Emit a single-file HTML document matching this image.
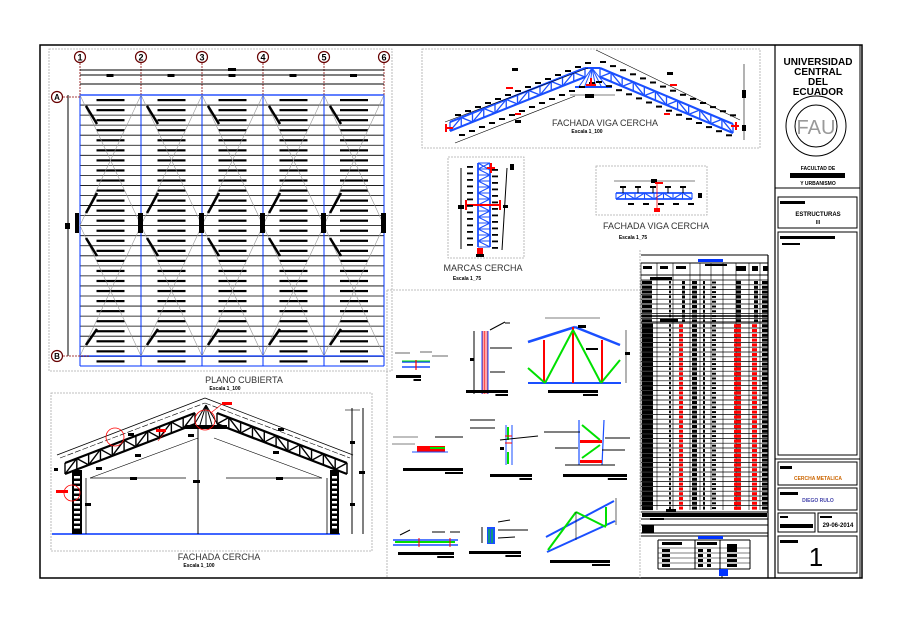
<!DOCTYPE html>
<html><head><meta charset="utf-8"><style>
html,body{margin:0;padding:0;background:#fff;width:904px;height:624px;overflow:hidden}
svg{display:block;font-family:"Liberation Sans",sans-serif}
</style></head><body>
<svg id="s" width="904" height="624" viewBox="0 0 904 624" xmlns="http://www.w3.org/2000/svg">
<rect width="904" height="624" fill="#fff"/>
<path d="M40 45H862V578H40Z" fill="none" stroke="#000" stroke-width="1.5"/>
<line x1="775" y1="45" x2="775" y2="578" stroke="#000" stroke-width="1.2"/>
<line x1="860" y1="45" x2="860" y2="578" stroke="#000" stroke-width="1"/>
<g fill="none" stroke="#aaa" stroke-width="0.8" stroke-dasharray="2,1">
<rect x="49" y="49" width="343" height="322"/>
<rect x="51" y="393" width="321" height="158"/>
<rect x="422" y="49" width="338" height="99"/>
<rect x="448" y="157" width="76" height="101"/>
<rect x="596" y="166" width="111" height="49"/>
<line x1="387" y1="290" x2="640" y2="290"/>
<line x1="387" y1="290" x2="387" y2="578"/>
<line x1="640" y1="250" x2="640" y2="578"/>
</g>
<g id="g"></g>
<g font-size="9" fill="#333" text-anchor="middle">
<text x="244" y="383">PLANO CUBIERTA</text>
<text x="219" y="560">FACHADA CERCHA</text>
<text x="605" y="126">FACHADA  VIGA CERCHA</text>
<text x="656" y="229">FACHADA  VIGA CERCHA</text>
<text x="483" y="271">MARCAS  CERCHA</text>
</g>
<g font-size="5" font-weight="bold" fill="#000" text-anchor="middle">
<text x="225" y="390">Escala 1_100</text>
<text x="199" y="567">Escala 1_100</text>
<text x="587" y="133">Escala 1_100</text>
<text x="633" y="239">Escala 1_75</text>
<text x="467" y="280">Escala 1_75</text>
</g>
<g fill="none" stroke="#000" stroke-width="1">
<line x1="775" y1="188" x2="860" y2="188"/>
<rect x="778" y="197" width="79" height="31"/>
<rect x="778" y="232" width="79" height="223"/>
<line x1="775" y1="459" x2="860" y2="459"/>
<rect x="778" y="462" width="79" height="23"/>
<rect x="778" y="488" width="79" height="22"/>
<rect x="778" y="513" width="37" height="19"/>
<rect x="818" y="513" width="39" height="19"/>
<rect x="778" y="536" width="79" height="37"/>
<circle cx="816" cy="126" r="30"/>
<circle cx="816" cy="126" r="21"/>
</g>
<g text-anchor="middle" font-weight="bold" fill="#000">
<text x="818" y="65" font-size="10">UNIVERSIDAD</text>
<text x="818" y="75" font-size="10">CENTRAL</text>
<text x="818" y="85" font-size="10">DEL</text>
<text x="818" y="95" font-size="10">ECUADOR</text>
<text x="816" y="134" font-size="20" font-weight="normal" fill="#999">FAU</text>
<text x="818" y="170" font-size="5">FACULTAD DE</text>
<text x="818" y="185" font-size="5">Y URBANISMO</text>
<text x="818" y="216" font-size="6">ESTRUCTURAS</text>
<text x="818" y="224" font-size="5">III</text>
<text x="818" y="480" font-size="5" fill="#c60">CERCHA METALICA</text>
<text x="818" y="502" font-size="5" fill="#44a">DIEGO RULO</text>
<text x="838" y="527" font-size="6">29-06-2014</text>
<text x="816" y="566" font-size="26" font-weight="normal">1</text>
</g>
<g fill="#000">
<rect x="790" y="173" width="55" height="5"/>
<rect x="780" y="201" width="25" height="3"/>
<rect x="780" y="236" width="55" height="3"/>
<rect x="782" y="243" width="18" height="2"/>
<rect x="780" y="466" width="12" height="3"/>
<rect x="780" y="492" width="18" height="3"/>
<rect x="780" y="516" width="8" height="2"/>
<rect x="780" y="524" width="33" height="4"/>
<rect x="820" y="516" width="12" height="2"/>
<rect x="780" y="540" width="18" height="3"/>
</g>
</svg>
<script>
var o='';
function L(x1,y1,x2,y2,c,w,d){o+='<line x1="'+x1+'" y1="'+y1+'" x2="'+x2+'" y2="'+y2+'" stroke="'+(c||'#000')+'" stroke-width="'+(w||1)+'"'+(d?' stroke-dasharray="'+d+'"':'')+'/>';}
function R(x,y,w,h,c){o+='<rect x="'+x+'" y="'+y+'" width="'+w+'" height="'+h+'" fill="'+(c||'#000')+'"/>';}
function C(x,y,r,c,w,f){o+='<circle cx="'+x+'" cy="'+y+'" r="'+r+'" fill="'+(f||'none')+'" stroke="'+(c||'#000')+'" stroke-width="'+(w||1)+'"/>';}
function T(x,y,s,t,c){o+='<text x="'+x+'" y="'+y+'" font-size="'+s+'" font-weight="bold" text-anchor="middle" fill="'+(c||'#000')+'">'+t+'</text>';}
var cx=[80,141,202,263,324,384],yA=95,yB=356;
for(var y=yA;y<=366;y+=10.05){L(80,y,384,y,'#000',0.8);}
for(var i=0;i<6;i++){L(cx[i],yA,cx[i],366,'#0033ff',1);L(cx[i],60,cx[i],yA,'#800',0.8,'2,1');C(cx[i],57,5.5,'#600',1.2,'#fff');T(cx[i],60.5,9,(i+1));}
L(80,yA,384,yA,'#0033ff',1.2);L(80,yB,384,yB,'#0033ff',1.2);L(80,366,384,366,'#0033ff',1);
L(80,70,384,70);L(80,75,384,75);L(80,84,384,84);
R(228,68,8,3);
for(var i=0;i<5;i++){var m=(cx[i]+cx[i+1])/2;R(m-4,74,7,3);
 for(var y=yA;y<=366;y+=10.05){R(m-14,y+4,28,2.2);}
 var a=cx[i],b=cx[i+1],ym=(yA+yB)/2;
 L(a,yA,b,ym,'#999',0.6);L(b,yA,a,ym,'#999',0.6);L(a,ym,b,yB,'#999',0.6);L(b,ym,a,yB,'#999',0.6);
 L(a+6,106,a+17,124,'#000',2.5);L(a+6,213,a+17,193,'#000',2.5);L(a+6,238,a+17,256,'#000',2.5);L(a+6,345,a+17,329,'#000',2.5);
}
for(var i=0;i<6;i++){R(cx[i]-(i==0?5:3),213,(i==0?4:5),20);}
L(68,yA,68,yB);R(65,223,5,6);
C(57,97,5.5,'#600',1.2,'#fff');T(57,100,8,'A');C(57,356,5.5,'#600',1.2,'#fff');T(57,359,8,'B');
L(63,97,80,97,'#800',0.8,'2,1');L(63,356,90,356,'#800',0.8,'2,1');
L(52,534,340,534,'#0033ff',1.5);
function truss(x0,y0,x1,y1,n,d,c,w){var dx=(x1-x0)/n,dy=(y1-y0)/n;L(x0,y0,x1,y1,c,w*1.6);L(x0,y0+d,x1,y1+d,c,w*1.6);
 for(var k=0;k<=n;k++){L(x0+dx*k,y0+dy*k,x0+dx*k,y0+dy*k+d,c,w);if(k<n){if(k%2)L(x0+dx*k,y0+dy*k,x0+dx*(k+1),y0+dy*(k+1)+d,c,w);else L(x0+dx*k,y0+dy*k+d,x0+dx*(k+1),y0+dy*(k+1),c,w);}}}
truss(65,463,195,413,11,11,'#000',1.4);
truss(217,413,347,463,11,11,'#000',1.4);
L(57,455,205,398,'#000',0.8);L(205,398,353,455,'#000',0.8);
L(60,458,205,403,'#000',0.6,'6,2');L(205,403,350,458,'#000',0.6,'6,2');
L(90,478,198,438,'#000',0.6);L(214,438,322,478,'#000',0.6);
R(185,425,42,4);L(206,405,194,425,'#000',1);L(206,405,218,425,'#000',1);L(206,405,206,425);L(206,405,200,425);L(206,405,212,425);
L(198,428,198,534,'#000',1);
R(72,470,10,64);R(330,470,9,64);
for(var y=476;y<530;y+=5){R(74,y,6,2.5,'#fff');R(332,y,5,2.5,'#fff');}
L(86,478,86,534,'#000',0.8);L(327,478,327,534,'#000',0.8);
L(90,478,186,478,'#000',0.8);L(226,478,322,478,'#000',0.8);
R(130,477,7,3);R(193,480,7,3);R(276,477,7,3);R(96,467,6,3);R(85,503,6,3);
R(128,433,6,3);R(135,454,6,3);R(188,434,6,3);R(278,428,6,3);R(273,451,6,3);
L(352,408,352,534);L(363,408,363,534);R(350,441,5,3);R(359,471,6,3);R(350,503,5,3);L(345,410,360,410,'#000',0.6);
R(54,468,4,3);
C(115,437,9,'red',0.8);C(72,493,8,'red',0.8);C(205,420,10,'red',0.8);
R(156,429,10,3,'red');R(56,490,12,3,'red');R(222,402,10,3,'red');
L(165,432,158,441,'red',0.6);L(222,404,212,412,'red',0.6);
truss(450,122,585,68,12,9,'#1a4fff',1.3);
truss(600,68,733,124,12,9,'#1a4fff',1.3);
L(585,68,600,68,'#1a4fff',2);R(575,86,37,2,'#1a4fff');
for(var k=0;k<6;k++){L(592,68,578+k*6,88,'#1a4fff',1);}
L(445,122,588,68,'#000',0.6);L(596,50,740,120,'#000',0.6);L(455,143,575,96,'#000',0.6);L(570,95,615,95,'#000',0.6);
L(744,64,744,140,'#000',0.6);R(742,90,4,8);R(742,125,4,6);R(585,94,9,4);
for(var k=0;k<14;k++){var xx=455+k*10,yy=121-k*4;R(xx,yy-7,6,2);R(xx+4,yy+13,6,2);}
for(var k=0;k<14;k++){var xx=600+k*10,yy=68+k*4.1;R(xx,yy-7,6,2);R(xx-4,yy+13,6,2);}
R(445,124,2,8,'red');R(445,127,8,2,'red');R(735,122,2,8,'red');R(731,125,8,2,'red');
R(590,78,2,8,'red');R(586,84,10,2,'red');
R(506,87,7,2,'red');R(515,113,6,2,'red');R(670,84,7,2,'red');R(664,113,6,2,'red');
R(512,68,6,3);R(515,120,6,3);R(667,72,6,3);
// marcas vertical truss
L(478,163,478,247,'#1a4fff',1.8);L(490,163,490,247,'#1a4fff',1.8);
for(var k=0;k<=14;k++){var yy=163+k*6;L(478,yy,490,yy,'#1a4fff',1);if(k<14){if(k%2)L(478,yy,490,yy+6,'#1a4fff',1);else L(490,yy,478,yy+6,'#1a4fff',1);}}
L(478,163,490,170,'#1a4fff',1.2);
R(490,163,2,10,'red');R(487,167,8,2,'red');R(465,204,36,2,'red');R(465,200,2,10,'red');R(499,200,2,10,'red');R(477,248,6,6,'red');R(476,254,8,3);
L(461,168,461,249);R(458,205,6,4);L(507,168,502,250);R(503,205,5,3);R(510,164,4,6);
for(var y=166;y<247;y+=6.5){R(467,y,6,1.8);R(492,y+3,6,1.8);}
truss(616,193,692,193,8,6,'#1a4fff',1.1);
L(614,181,695,181,'#000',0.6);R(651,179,6,4);R(655,182,8,2,'red');R(654,208,6,4,'red');L(657,184,657,208,'red',0.8);
for(var k=0;k<5;k++){R(620+k*15,186,6,2);R(628+k*15,203,6,2);L(623+k*15,186,623+k*15,193);}
R(698,193,4,5);
var tx=641,tw=127;L(tx,255,tx+tw,255);L(tx,578,tx+tw,578);L(tx+tw,255,tx+tw,578,'#000',1.2);
R(698,259,25,3,'#0033ff');
L(tx,263,tx+tw,263);L(tx,275,tx+tw,275);
var cols=[641,657,673,690,700,711,723,736,749,760,768];
for(var j=0;j<cols.length;j++)L(cols[j],263,cols[j],510,'#000',0.6);
R(643,266,9,3);R(660,266,8,3);R(676,266,10,3);R(705,264,22,2);R(736,266,10,5);R(752,266,6,5);R(763,266,5,5);
R(650,277,22,3);R(660,319,18,3);R(666,509,10,3);
for(var y=280;y<508;y+=4.8){L(tx,y,tx+tw,y,'#000',0.7);
 R(642,y+0.8,10,3.2);R(669,y+1,2,2.6);R(692,y+1,5,3);R(703,y+1,2,3);R(712,y+1.5,4,2);R(736,y+0.8,5,3.2);R(762,y+1,6,3);
 if(y>320){R(679,y+1,4,3,'#f00');R(734,y+1,7,3.2,'#f00');R(752,y+1,5,3,'#f00');R(642,y+0.5,11,4);}
 else {R(682,y+1,3,3);R(754,y+1,4,3);}
}
L(tx,316,tx+tw,316,'#000',1.4);L(tx,322,tx+tw,322);
L(tx,512,tx+tw,512);L(tx,519,tx+tw,519);L(tx,525,tx+tw,525);L(tx,533,tx+tw,533);L(tx,536,tx+tw,536);
R(642,513,125,4);R(642,525,12,8);R(650,518,14,2);
R(698,536,25,3,'#0033ff');
L(658,540,750,540);L(658,569,750,569);L(658,540,658,569);L(695,540,695,569);L(720,540,720,569);L(750,540,750,569);L(722,569,722,578);
R(662,542,20,3);R(697,542,20,3);R(727,544,10,5);
for(var y=548;y<568;y+=5){L(658,y,750,y,'#000',0.6);R(662,y+1,8,3);R(698,y+1,5,3);R(707,y+1,4,3);R(727,y+1,10,3);}
R(719,569,9,7,'#0033ff');
function det(x,y,w){R(x,y,w,3);R(x+w*0.7,y+4,w*0.3,2);}
L(402,362,430,362,'#1a4fff',1.5);L(402,367,430,367,'#1a4fff',1.5);L(402,361,430,361,'#00e000',1);L(416,360,416,370,'red',1.2);
L(395,353,410,353,'#000',0.6);L(420,352,432,352,'#000',0.6);L(432,356,448,356,'#000',0.6);det(396,375,25);
R(482,331,6,63,'#fff');for(var k=0;k<4;k++)L(483+k*1.5,331,483+k*1.5,394,'red',0.7);L(482,331,482,394,'#1a4fff',1);L(488,331,488,394,'#1a4fff',1);
L(474,331,474,394);R(470,358,4,3);L(490,330,505,322);L(505,323,510,323);L(490,348,512,348);L(490,372,505,372);det(466,390,42);
L(528,342,575,327,'#1a4fff',2.5);L(575,327,620,345,'#1a4fff',2.5);L(528,383,621,383,'#1a4fff',2);
L(544,340,544,383,'red',2);L(573,327,573,383,'red',2);L(602,340,602,383,'red',2);
L(545,383,573,330,'#00e000',2);L(573,330,601,383,'#00e000',2);L(528,368,545,383,'#00e000',2);L(601,383,620,360,'#00e000',2);
L(545,318,600,318,'#000',0.6);L(626,330,626,383,'#000',0.6);R(625,352,5,3);R(578,325,8,3);R(586,348,12,2);det(548,390,50);
R(417,446,28,6,'red');L(430,448,445,448,'#00e000',2);L(412,452,448,452,'#1a4fff',1);L(393,437,418,437,'#000',0.6);L(435,437,463,437);L(392,444,415,444,'#000',0.5);det(403,468,60);
L(506,425,506,465,'#1a4fff',1);L(512,425,512,465,'#1a4fff',1);L(508,427,508,440,'#00e000',2);L(508,452,508,464,'#00e000',2);L(505,436,512,436,'red',1);L(505,443,512,443,'red',1);
L(470,420,495,420);L(470,428,495,428);L(500,440,538,436);R(500,447,4,3);det(490,474,42);
L(579,420,579,465,'#1a4fff',1.2);L(604,420,602,465,'#1a4fff',1.2);R(580,440,22,3,'red');R(580,460,22,3,'red');
L(582,425,600,440,'#00e000',2);L(582,458,600,445,'#00e000',2);L(565,465,615,465);L(544,432,580,432);L(555,448,578,448);L(605,438,630,438);L(602,450,625,450);det(563,474,64);
L(393,540,458,540,'#1a4fff',1.5);L(393,545,458,545,'#1a4fff',1.5);L(395,542,455,542,'#00e000',2);L(419,538,419,547,'red',1);L(450,538,450,547,'red',1);L(400,535,410,530);L(432,532,445,532);L(450,532,460,532);det(398,552,56);
R(487,527,8,17,'#1a4fff');L(489,529,489,543,'#00e000',1);L(492,529,492,543,'#00e000',1);L(482,527,482,543);L(498,522,510,520);L(498,530,528,530);L(498,538,515,537);det(469,551,52);
L(546,537,614,501,'#1a4fff',2);L(547,552,615,521,'#1a4fff',2);L(548,550,576,512,'#00e000',2);L(576,512,606,527,'#00e000',2);L(606,507,606,526,'#00e000',2);L(576,512,576,540,'#000',0.6);L(616,498,616,525,'#000',0.6);det(550,560,60);
document.getElementById('g').innerHTML=o;
</script>
</body></html>
